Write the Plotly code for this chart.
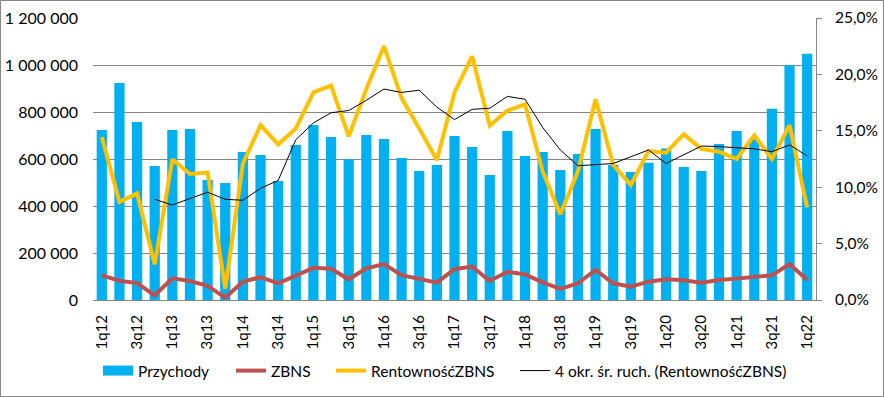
import plotly.graph_objects as go

quarters = ["1q12","2q12","3q12","4q12","1q13","2q13","3q13","4q13","1q14","2q14","3q14","4q14",
            "1q15","2q15","3q15","4q15","1q16","2q16","3q16","4q16","1q17","2q17","3q17","4q17",
            "1q18","2q18","3q18","4q18","1q19","2q19","3q19","4q19","1q20","2q20","3q20","4q20",
            "1q21","2q21","3q21","4q21","1q22"]

przychody = [723000, 923000, 757000, 570000, 723000, 728000, 511000, 498000, 630000, 617000, 506000, 660000,
             745000, 694000, 599000, 702000, 685000, 604000, 549000, 574000, 698000, 651000, 532000, 719000,
             613000, 630000, 553000, 621000, 728000, 574000, 545000, 584000, 645000, 566000, 549000, 664000,
             719000, 684000, 814000, 1000000, 1048000]

zbns = [105000, 82000, 72000, 20000, 92000, 81000, 60000, 10000, 78000, 97000, 71000, 102000,
        137000, 133000, 88000, 135000, 153000, 106000, 88000, 74000, 131000, 142000, 81000, 120000,
        109000, 75000, 47000, 71000, 128000, 71000, 57000, 78000, 88000, 84000, 74000, 85000,
        91000, 99000, 105000, 153000, 85000]

rentownosc = [0.1445, 0.087, 0.0945, 0.0316, 0.1247, 0.1117, 0.113, 0.010, 0.121, 0.155, 0.138, 0.152,
              0.184, 0.190, 0.145, 0.187, 0.225, 0.179, 0.152, 0.124, 0.184, 0.216, 0.1545, 0.168,
              0.1735, 0.114, 0.076, 0.114, 0.178, 0.1197, 0.102, 0.132, 0.1306, 0.147, 0.134, 0.1315,
              0.125, 0.146, 0.125, 0.155, 0.082]

srednia_ruchoma = [None, None, None, 0.0893, 0.0842, 0.090, 0.0955, 0.0893, 0.0884, 0.099, 0.106, 0.142,
                   0.157, 0.166, 0.168, 0.177, 0.187, 0.184, 0.186, 0.171, 0.160, 0.169, 0.170, 0.1805,
                   0.178, 0.153, 0.133, 0.119, 0.1197, 0.121, 0.127, 0.133, 0.121, 0.1285, 0.1365, 0.136,
                   0.135, 0.134, 0.1315, 0.1375, 0.1277]

x_tick_labels = quarters[::2]

left_ticks = [0, 200000, 400000, 600000, 800000, 1000000, 1200000]
right_ticks = [0, 0.05, 0.10, 0.15, 0.20, 0.25]

FONT = "Lato"
GRID = "#868686"
BLUE, RED, ORANGE, BLACK = "#00B0F0", "#C0504D", "#FFC000", "#000000"

W, H = 884, 397
L, R, T, B = 93, 68, 18, 97
pw, ph = W - L - R, H - T - B

def px_x(p):
    return (p - L) / pw

LEG_Y = (300 - 371) / ph
LEG_OFF = 5  # legend box left edge -> line symbol start

fig = go.Figure()
fig.add_trace(go.Bar(x=quarters, y=przychody, name="Przychody", marker_color=BLUE,
                     marker_line_width=0, yaxis="y", showlegend=False))
fig.add_trace(go.Scatter(x=quarters, y=zbns, name="ZBNS", mode="lines",
                         line=dict(color=RED, width=4), yaxis="y", legend="legend2"))
fig.add_trace(go.Scatter(x=quarters, y=rentownosc, name="RentownośćZBNS", mode="lines",
                         line=dict(color=ORANGE, width=4), yaxis="y2", legend="legend3"))
fig.add_trace(go.Scatter(x=quarters, y=srednia_ruchoma, name="4 okr. śr. ruch. (RentownośćZBNS)",
                         mode="lines", line=dict(color=BLACK, width=1), yaxis="y2", legend="legend4"))
# legend-only entry drawn as a wide rectangle, as in the original legend
fig.add_trace(go.Scatter(x=[None], y=[None], name="Przychody", mode="lines",
                         line=dict(color=BLUE, width=10), legend="legend", hoverinfo="skip"))

leg_common = dict(orientation="h", xanchor="left", y=LEG_Y, yanchor="middle",
                  font=dict(family=FONT, size=15.5), bgcolor="rgba(0,0,0,0)", itemwidth=30)

fig.update_layout(
    width=W, height=H,
    autosize=False,
    margin=dict(l=L, r=R, t=T, b=B, pad=0, autoexpand=False),
    paper_bgcolor="white", plot_bgcolor="white",
    separators=", ",
    font=dict(family=FONT, size=15, color="#000000"),
    bargap=0.42,
    showlegend=True,
    legend=dict(x=px_x(103 - LEG_OFF), **leg_common),
    legend2=dict(x=px_x(236 - LEG_OFF), **leg_common),
    legend3=dict(x=px_x(336 - LEG_OFF), **leg_common),
    legend4=dict(x=px_x(520 - LEG_OFF), **leg_common),
    xaxis=dict(type="category", tickmode="array", tickvals=x_tick_labels, ticktext=x_tick_labels,
               tickangle=-90, showgrid=False, showline=True, linecolor=GRID, linewidth=1,
               ticks="", ticklabelstandoff=8, range=[-0.5, len(quarters) - 0.5], automargin=False,
               tickfont=dict(size=15)),
    yaxis=dict(range=[0, 1200000], tickvals=left_ticks, tickformat=",d", showgrid=True,
               gridcolor=GRID, gridwidth=1, zeroline=False, showline=False, ticks="",
               ticklabelstandoff=14, automargin=False, tickfont=dict(size=16)),
    yaxis2=dict(range=[0, 0.25], tickvals=right_ticks, tickformat=".1%", overlaying="y",
                side="right", showgrid=False, zeroline=False, showline=True, linecolor=GRID,
                linewidth=1, ticks="outside", ticklen=5, tickcolor=GRID, ticklabelstandoff=10,
                automargin=False, tickfont=dict(size=15.5)),
    shapes=[dict(type="rect", xref="paper", yref="paper",
                 x0=(0.5 - L) / pw, x1=(W - 0.5 - L) / pw,
                 y0=-(B - 0.5) / ph, y1=1 + (T - 0.5) / ph,
                 line=dict(color=GRID, width=1), fillcolor="rgba(0,0,0,0)", layer="below")],
)

fig.write_html("out.html", config={"responsive": False, "displayModeBar": False},
               post_script="document.body.style.margin='0px';document.body.style.overflow='hidden';")
